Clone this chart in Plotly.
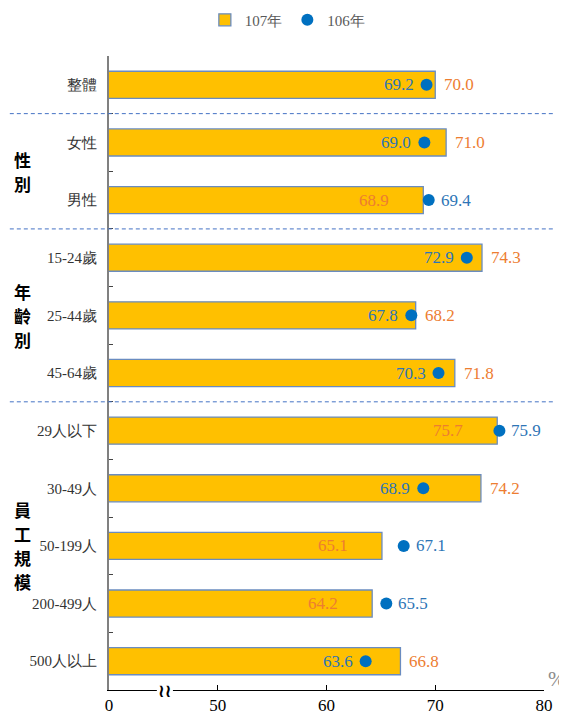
import plotly.graph_objects as go

categories = ["整體", "女性", "男性", "15-24歲", "25-44歲", "45-64歲",
              "29人以下", "30-49人", "50-199人", "200-499人", "500人以上"]
values_107 = [70.0, 71.0, 68.9, 74.3, 68.2, 71.8, 75.7, 74.2, 65.1, 64.2, 66.8]
values_106 = [69.2, 69.0, 69.4, 72.9, 67.8, 70.3, 75.9, 68.9, 67.1, 65.5, 63.6]
series_names = ["107年", "106年"]
tick_vals = [40, 50, 60, 70, 80]
tick_text = ["0", "50", "60", "70", "80"]
groups = [("性別", 1.5), ("年齡別", 4), ("員工規模", 8)]
separators = [0.5, 2.5, 5.5]

FONT = "Liberation Serif"
GOLD = "#FFC000"
BAR_LINE = "#6A8CC0"
DOT = "#0070C0"
ORANGE = "#ED7D31"
BLUE_TXT = "#2E75B6"

fig = go.Figure()
fig.add_trace(go.Bar(
    name=series_names[0], y=categories, x=values_107, orientation="h",
    width=0.47, marker=dict(color=GOLD, line=dict(color=BAR_LINE, width=1.3)),
    hoverinfo="skip"))
fig.add_trace(go.Scatter(
    name=series_names[1], y=categories, x=values_106, mode="markers",
    marker=dict(color=DOT, size=12, symbol="circle"), hoverinfo="skip"))

annotations = []
lab = dict(showarrow=False)
for cat, a, b in zip(categories, values_107, values_106):
    if a >= b:
        annotations.append(dict(x=a, y=cat, text=f"{a:.1f}", xanchor="left", xshift=7,
                                font=dict(color=ORANGE, size=17, family=FONT), **lab))
        annotations.append(dict(x=b, y=cat, text=f"{b:.1f}", xanchor="right", xshift=-11,
                                font=dict(color=BLUE_TXT, size=17, family=FONT), **lab))
    else:
        annotations.append(dict(x=b, y=cat, text=f"{b:.1f}", xanchor="left", xshift=10,
                                font=dict(color=BLUE_TXT, size=17, family=FONT), **lab))
        annotations.append(dict(x=a, y=cat, text=f"{a:.1f}", xanchor="right", xshift=-32,
                                font=dict(color=ORANGE, size=17, family=FONT), **lab))

for text, ypos in groups:
    n = len(text)
    for i, ch in enumerate(text):
        annotations.append(dict(x=-0.2, xref="paper", y=ypos, yref="y", text=f"<b>{ch}</b>",
                                yshift=-(i - (n - 1) / 2) * 24,
                                font=dict(size=17, color="#000", family="Noto Sans CJK TC"),
                                xanchor="center", yanchor="middle", **lab))

annotations.append(dict(x=1.03, xref="paper", y=0.018, yref="paper", text="%",
                        font=dict(size=21, color="#8C8C8C", family=FONT),
                        xanchor="center", yanchor="middle", **lab))
annotations.append(dict(x=0.129, xref="paper", y=0, yref="paper", text="<b>≀≀</b>",
                        font=dict(size=18, color="#000", family="DejaVu Sans"),
                        xanchor="center", yanchor="middle", **lab))

shapes = []
for s in separators:
    shapes.append(dict(type="line", xref="paper", x0=-0.228, x1=1.025, yref="y", y0=s, y1=s,
                       line=dict(color="#4472C4", width=1, dash="4px,3px"), layer="above"))
shapes.append(dict(type="rect", xref="paper", x0=0.110, x1=0.147, yref="paper", y0=-0.008, y1=0.008,
                   fillcolor="white", line=dict(width=0), layer="above"))

fig.update_layout(
    width=559, height=712,
    margin=dict(l=101, r=23, t=48, b=30, autoexpand=False),
    paper_bgcolor="white", plot_bgcolor="white",
    showlegend=True,
    legend=dict(orientation="h", x=0.41, xanchor="center", y=0.983, yanchor="middle",
                yref="container", xref="paper",
                font=dict(size=15, color="#595959", family=FONT), itemwidth=30,
                traceorder="normal"),
    xaxis=dict(range=[40, 80], tickvals=tick_vals, ticktext=tick_text,
               ticks="inside", ticklen=5, tickcolor="#000", showline=True,
               linecolor="#000", linewidth=1, showgrid=False, zeroline=False,
               automargin=False,
               tickfont=dict(size=17, color="#000", family=FONT)),
    yaxis=dict(type="category", categoryarray=categories, range=[10.5, -0.5],
               tickson="boundaries", ticks="inside", ticklen=4, tickcolor="#444",
               showline=True, linecolor="#808080", linewidth=2, showgrid=False,
               ticklabelstandoff=7, automargin=False,
               tickfont=dict(size=15, color="#333", family=FONT)),
    annotations=annotations, shapes=shapes,
    bargap=0.53,
)

fig.write_html("out.html")
